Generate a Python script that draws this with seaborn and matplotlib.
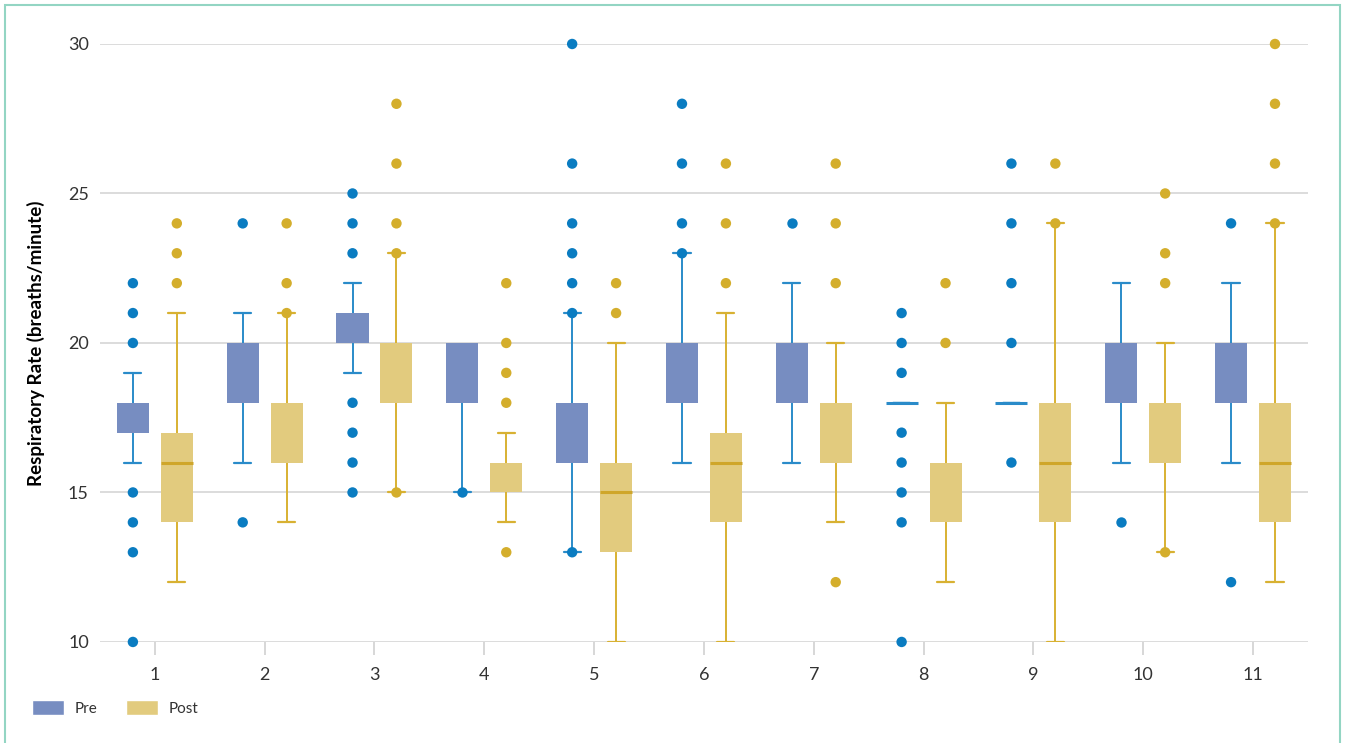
import matplotlib.pyplot as plt
import pandas as pd
import seaborn as sns
from matplotlib.patches import Patch, Rectangle

# %%
groups = [str(i) for i in range(1, 12)]
phases = ["Pre", "Post"]

# box summaries (low whisker, q1, median, q3, high whisker)
pre_low = [16, 16, 19, 15, 13, 16, 16, 18, 18, 16, 16]
pre_q1 = [17, 18, 20, 18, 16, 18, 18, 18, 18, 18, 18]
pre_median = [18, 20, 21, 20, 18, 20, 20, 18, 18, 20, 20]
pre_q3 = [18, 20, 21, 20, 18, 20, 20, 18, 18, 20, 20]
pre_high = [19, 21, 22, 20, 21, 23, 22, 18, 18, 22, 22]
pre_outliers = [
    [22, 21, 20, 15, 14, 13, 10],
    [24, 14],
    [25, 24, 23, 18, 17, 16, 15],
    [15],
    [30, 26, 24, 23, 22, 21, 13],
    [28, 26, 24, 23],
    [24],
    [21, 20, 19, 17, 16, 15, 14, 10],
    [26, 24, 22, 20, 16],
    [14],
    [24, 12],
]

post_low = [12, 14, 15, 14, 10, 10, 14, 12, 10, 13, 12]
post_q1 = [14, 16, 18, 15, 13, 14, 16, 14, 14, 16, 14]
post_median = [16, 18, 20, 16, 15, 16, 18, 16, 16, 18, 16]
post_q3 = [17, 18, 20, 16, 16, 17, 18, 16, 18, 18, 18]
post_high = [21, 21, 23, 17, 20, 21, 20, 18, 24, 20, 24]
post_outliers = [
    [24, 23, 22],
    [24, 22, 21],
    [28, 26, 24, 23, 15],
    [22, 20, 19, 18, 13],
    [22, 21],
    [26, 24, 22],
    [26, 24, 22, 12],
    [22, 20],
    [26, 24],
    [25, 23, 22, 13],
    [30, 28, 26, 24],
]

PRE_FILL = "#778dc1"
POST_FILL = "#e2cb7e"
PRE_LINE = "#2a8bc9"
POST_LINE = "#d8b132"
PRE_DOT = "#0a7cc1"
POST_DOT = "#d4ae2c"
POST_MED = "#cfa62a"
TEXT = "#333333"

# %%
# long-form tables for seaborn
box_rows = []
out_rows = []
summaries = {
    "Pre": (pre_low, pre_q1, pre_median, pre_q3, pre_high),
    "Post": (post_low, post_q1, post_median, post_q3, post_high),
}
outliers = {"Pre": pre_outliers, "Post": post_outliers}
for phase in phases:
    for i, g in enumerate(groups):
        for stat in summaries[phase]:
            box_rows.append({"group": g, "phase": phase, "value": stat[i]})
        for v in outliers[phase][i]:
            out_rows.append({"group": g, "phase": phase, "value": v})
df_box = pd.DataFrame(box_rows)
df_out = pd.DataFrame(out_rows)

# %%
sns.set_theme(style="white")
plt.rcParams["font.family"] = ["Lato", "DejaVu Sans"]

fig = plt.figure(figsize=(13.47, 7.43), dpi=100)
ax = fig.add_axes([0.0742, 0.136, 0.8968, 0.8048])

sns.boxplot(
    data=df_box, x="group", y="value", hue="phase",
    order=groups, hue_order=phases,
    palette={"Pre": PRE_FILL, "Post": POST_FILL},
    saturation=1, width=0.8, gap=0.27, whis=(0, 100),
    legend=False, ax=ax,
)

# restyle box parts
for cont, line_c, med_c in zip(ax.containers[:2], [PRE_LINE, POST_LINE], [PRE_LINE, POST_MED]):
    for i, (box, med) in enumerate(zip(cont.boxes, cont.medians)):
        box.set_linewidth(0)
        ys = box.get_path().vertices[:, 1]
        lo, hi = ys.min(), ys.max()
        m = med.get_ydata()[0]
        med.set_color(med_c)
        med.set_linewidth(2.2)
        if hi > lo and (m <= lo or m >= hi):
            med.set_visible(False)
        for w, cap in zip(cont.whiskers[2 * i:2 * i + 2], cont.caps[2 * i:2 * i + 2]):
            w.set_color(line_c)
            w.set_linewidth(1.4)
            xd = cap.get_xdata()
            c = (xd[0] + xd[1]) / 2
            cap.set_xdata([c - 0.078, c + 0.078])
            cap.set_color(line_c)
            cap.set_linewidth(1.6)
            wy = w.get_ydata()
            if hi > lo and wy[0] == wy[1]:
                cap.set_visible(False)

sns.stripplot(
    data=df_out, x="group", y="value", hue="phase",
    order=groups, hue_order=phases,
    palette={"Pre": PRE_DOT, "Post": POST_DOT},
    dodge=True, jitter=False, size=7.5, linewidth=0,
    legend=False, ax=ax, zorder=4, clip_on=False,
)

ax.set_xlim(-0.5, 10.5)
ax.set_ylim(10, 30)
ax.set_yticks([10, 15, 20, 25, 30])
sns.despine(ax=ax, left=True, bottom=True)
ax.yaxis.grid(True, color="#d9d9d9", linewidth=1.3)
ax.xaxis.grid(False)
ax.set_axisbelow(True)

ax.tick_params(axis="y", length=0, pad=8, labelsize=13, labelcolor=TEXT)
ax.tick_params(axis="x", bottom=True, length=9, width=1.3, color="#d4d4d4",
               pad=9, labelsize=13, labelcolor=TEXT)
ax.set_xlabel("")
ax.set_ylabel("Respiratory Rate (breaths/minute)", fontsize=13.5,
              fontweight="bold", color="black")
ax.yaxis.set_label_coords(-0.0455, 0.5)

handles = [Patch(facecolor=PRE_FILL, label="Pre"), Patch(facecolor=POST_FILL, label="Post")]
fig.legend(handles=handles, loc="center left", bbox_to_anchor=(0.024, 0.047),
           ncol=2, frameon=False, fontsize=11, handlelength=2.1, handleheight=1.05,
           handletextpad=0.65, columnspacing=1.9, borderaxespad=0, borderpad=0,
           labelcolor=TEXT)

fig.add_artist(Rectangle((5 / 1347, -0.02), 1335 / 1347, 738 / 743 + 0.02,
                         transform=fig.transFigure, fill=False,
                         edgecolor="#93d5c3", linewidth=1.5))

fig.savefig("out.png", dpi=100)
